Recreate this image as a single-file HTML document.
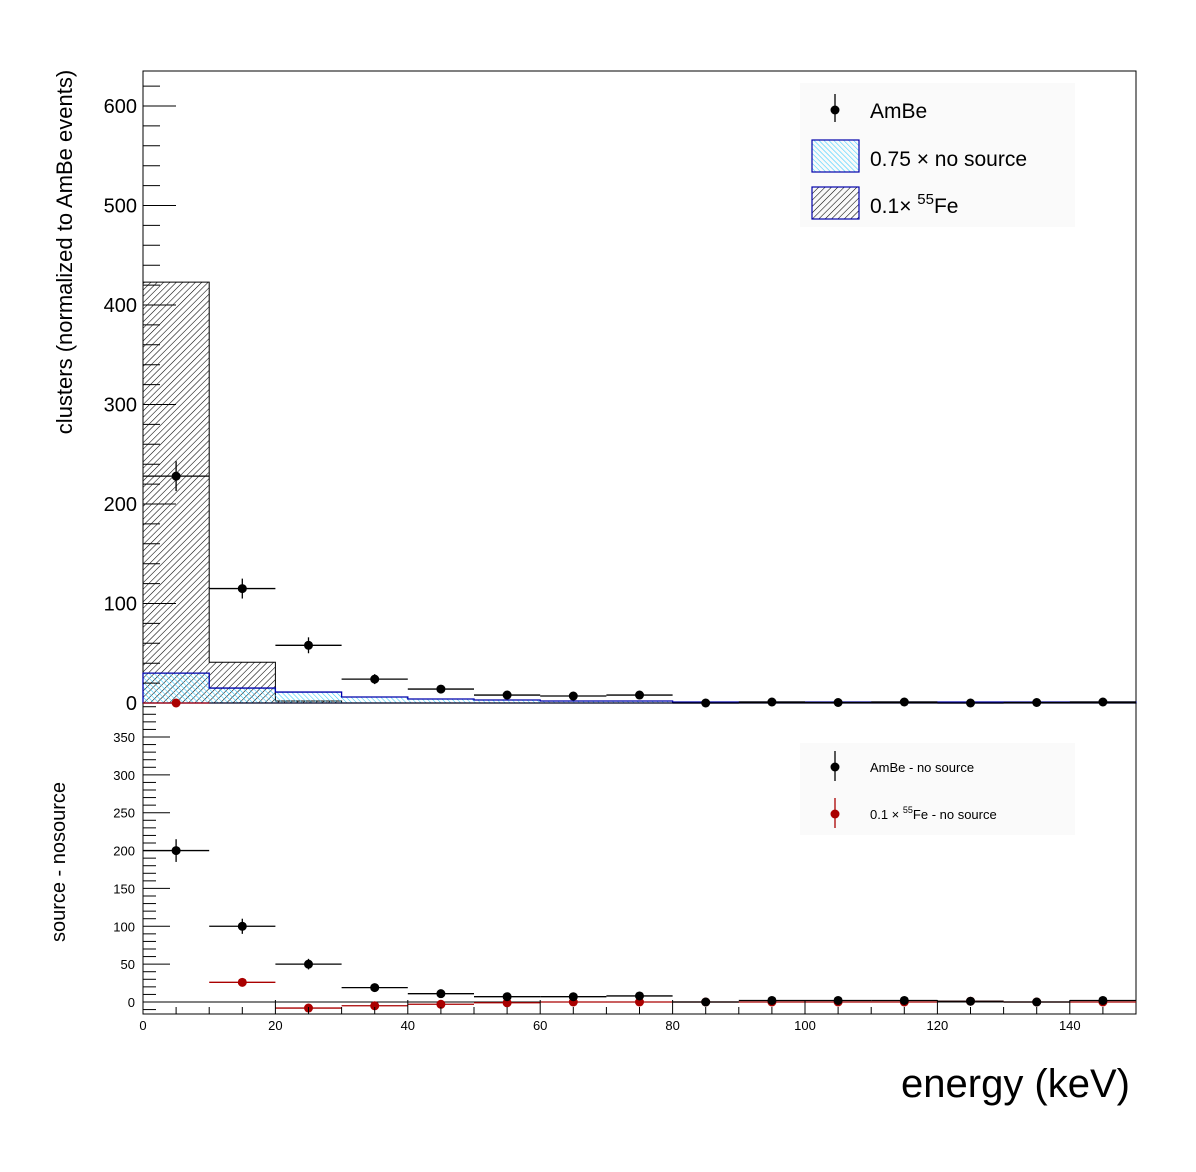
<!DOCTYPE html>
<html><head><meta charset="utf-8">
<style>
html,body{margin:0;padding:0;background:#fff;}
svg{display:block;font-family:"Liberation Sans",sans-serif;}
</style></head>
<body>
<svg id="chart" width="1196" height="1172" viewBox="0 0 1196 1172" xmlns="http://www.w3.org/2000/svg">
<defs>
<pattern id="hatchBlack" patternUnits="userSpaceOnUse" width="4.5" height="4.5" patternTransform="rotate(45)">
<line x1="0" y1="0" x2="0" y2="4.5" stroke="#000" stroke-width="1.1"/>
</pattern>
<pattern id="hatchBlue" patternUnits="userSpaceOnUse" width="3.5" height="3.5" patternTransform="rotate(-45)">
<line x1="0" y1="0" x2="0" y2="3.5" stroke="#33ccff" stroke-width="1.1"/>
</pattern>
</defs>
<rect x="0" y="0" width="1196" height="1172" fill="#fff"/>
<g id="topPad"></g>
<g id="botPad"></g>
</svg>
<script>
// ---- data ----
const binEdges = [0,10,20,30,40,50,60,70,80,90,100,110,120,130,140,150];
const ambe = [228,115,58,24,14,8,7,8,0,1,0.5,1,0,0.5,1];
const ambeErr = [15,10,8,5,4,3,3,3,0,2,1,2,0,1,2];
const noSource = [30,15,11,6,4,3,2,2,1,1,1,1,1,1,1];
const fe55 = [423,41,2,0,0,0,0,0,0,0,0,0,0,0,0];
const diffAmbe = [200,100,50,19,11,7,7,8,0,2,2,2,1,0,2];
const diffAmbeErr = [15,10,7,4,3,3,3,3,0,2,2,2,1,1,2];
const diffFe = [395,26,-8,-5,-3,-1,0,0,0,0,0,0,1,0,0];
const topTicks = [0,100,200,300,400,500,600];
const botTicks = [0,50,100,150,200,250,300,350];
const xTicks = [0,20,40,60,80,100,120,140];

const NS="http://www.w3.org/2000/svg";
function mk(parent,tag,attrs,text){const e=document.createElementNS(NS,tag);for(const k in attrs)e.setAttribute(k,attrs[k]);if(text!==undefined)e.textContent=text;parent.appendChild(e);return e;}

const X0=143,X1=1136;
const xs=v=>X0+(v-0)/150*(X1-X0);
const TY0=71,TY1=703;
const ty=v=>TY1-v*(597/600);
const BY0=703,BY1=1014;
const by=v=>1002-v*(265/350);

const topG=document.getElementById('topPad');
const botG=document.getElementById('botPad');

let f=mk(topG,'rect',{x:X0,y:TY0,width:X1-X0,height:TY1-TY0,fill:'none',stroke:'#000','stroke-width':1});


f=mk(botG,'rect',{x:X0,y:BY0,width:X1-X0,height:BY1-BY0,fill:'none',stroke:'#000','stroke-width':1});



function histPath(vals,yf){let d='';for(let i=0;i<vals.length;i++){const x0=xs(binEdges[i]),x1=xs(binEdges[i+1]),y=Math.max(TY0,yf(vals[i]));d+=(i===0?`M${x0},${yf(0)}L${x0},${y}`:`L${x0},${y}`)+`L${x1},${y}`;}d+=`L${xs(binEdges[vals.length])},${yf(0)}Z`;return d;}
let h=mk(topG,'path',{d:histPath(fe55,ty),fill:'url(#hatchBlack)',stroke:'#000','stroke-width':1});


h=mk(topG,'path',{d:histPath(noSource,ty),fill:'url(#hatchBlue)',stroke:'#0000aa','stroke-width':1.3});



function points(g,vals,errs,yf,color,name,ymin,ymax){
  for(let i=0;i<vals.length;i++){
    const xc=xs((binEdges[i]+binEdges[i+1])/2);
    const y=Math.min(ymax,Math.max(ymin,yf(vals[i])));
    const l=mk(g,'line',{x1:xs(binEdges[i]),x2:xs(binEdges[i+1]),y1:y,y2:y,stroke:color,'stroke-width':1.3});
    
    
    if(errs){const e=errs[i]||1.5;const v=mk(g,'line',{x1:xc,x2:xc,y1:Math.max(ymin,yf(vals[i]+e)),y2:Math.min(ymax,yf(vals[i]-e)),stroke:color,'stroke-width':1.3});
      
      }
    const c=mk(g,'circle',{cx:xc,cy:y,r:4.5,fill:color});
    
    
  }
}
points(topG,ambe,ambeErr,ty,'#000','ambe',TY0,TY1);

for(let v=0;v<=620;v+=20){const y=ty(v);const major=v%100===0;
  const t=mk(topG,'line',{x1:X0,x2:X0+(major?33:17),y1:y,y2:y,stroke:'#000','stroke-width':1});
  
  }
topTicks.forEach(v=>{const t=mk(topG,'text',{x:137,y:ty(v)+7,'text-anchor':'end','font-size':20},String(v));
  
  });
let yt=mk(topG,'text',{x:0,y:0,'font-size':22,'text-anchor':'middle',transform:'translate(72,252) rotate(-90)'},'clusters (normalized to AmBe events)');



const lg=mk(topG,'g',{});


mk(lg,'rect',{x:800,y:83,width:275,height:144,fill:'#fafafa'});
mk(lg,'line',{x1:835,x2:835,y1:94,y2:122,stroke:'#000','stroke-width':1.3});
mk(lg,'circle',{cx:835,cy:110,r:4.5,fill:'#000'});
mk(lg,'text',{x:870,y:118,'font-size':21},'AmBe');
mk(lg,'rect',{x:812,y:140,width:47,height:32,fill:'url(#hatchBlue)',stroke:'#0000aa','stroke-width':1.2});
mk(lg,'text',{x:870,y:166,'font-size':21},'0.75 \u00d7 no source');
mk(lg,'rect',{x:812,y:187,width:47,height:32,fill:'url(#hatchBlack)',stroke:'#0000aa','stroke-width':1.2});
const lt=mk(lg,'text',{x:870,y:213,'font-size':21},'0.1\u00d7 ');
mk(lt,'tspan',{dy:-9,'font-size':15},'55');
mk(lt,'tspan',{dy:9},'Fe');

let zl=mk(botG,'line',{x1:X0,x2:X1,y1:by(0),y2:by(0),stroke:'#000','stroke-width':1});


points(botG,diffFe,null,by,'#aa0000','fe55-diff',BY0,BY1);
points(botG,diffAmbe,diffAmbeErr,by,'#000','ambe-diff',BY0,BY1);

for(let v=-10;v<=390;v+=10){const y=by(v);const major=v%50===0;
  const t=mk(botG,'line',{x1:X0,x2:X0+(major?27:13),y1:y,y2:y,stroke:'#000','stroke-width':1});
  
  }
botTicks.forEach(v=>{const t=mk(botG,'text',{x:135,y:by(v)+5,'text-anchor':'end','font-size':13},String(v));
  
  });
yt=mk(botG,'text',{x:0,y:0,'font-size':20,'text-anchor':'middle',transform:'translate(65,862) rotate(-90)'},'source - nosource');



for(let v=0;v<=150;v+=5){const x=xs(v);const major=v%20===0;
  const t=mk(botG,'line',{x1:x,x2:x,y1:BY1,y2:BY1-(major?14:7),stroke:'#000','stroke-width':1});
  
  }
xTicks.forEach(v=>{const t=mk(botG,'text',{x:xs(v),y:1030,'text-anchor':'middle','font-size':13},String(v));
  
  });
let xt=mk(botG,'text',{x:1130,y:1097,'text-anchor':'end','font-size':40},'energy (keV)');



const lg2=mk(botG,'g',{});


mk(lg2,'rect',{x:800,y:743,width:275,height:92,fill:'#fafafa'});
mk(lg2,'line',{x1:835,x2:835,y1:751,y2:781,stroke:'#000','stroke-width':1.3});
mk(lg2,'circle',{cx:835,cy:767,r:4.5,fill:'#000'});
mk(lg2,'text',{x:870,y:772,'font-size':13},'AmBe - no source');
mk(lg2,'line',{x1:835,x2:835,y1:798,y2:828,stroke:'#aa0000','stroke-width':1.3});
mk(lg2,'circle',{cx:835,cy:814,r:4.5,fill:'#aa0000'});
const lt2=mk(lg2,'text',{x:870,y:819,'font-size':13},'0.1 \u00d7 ');
mk(lt2,'tspan',{dy:-6,'font-size':9},'55');
mk(lt2,'tspan',{dy:6},'Fe - no source');
</script>
</body></html>
